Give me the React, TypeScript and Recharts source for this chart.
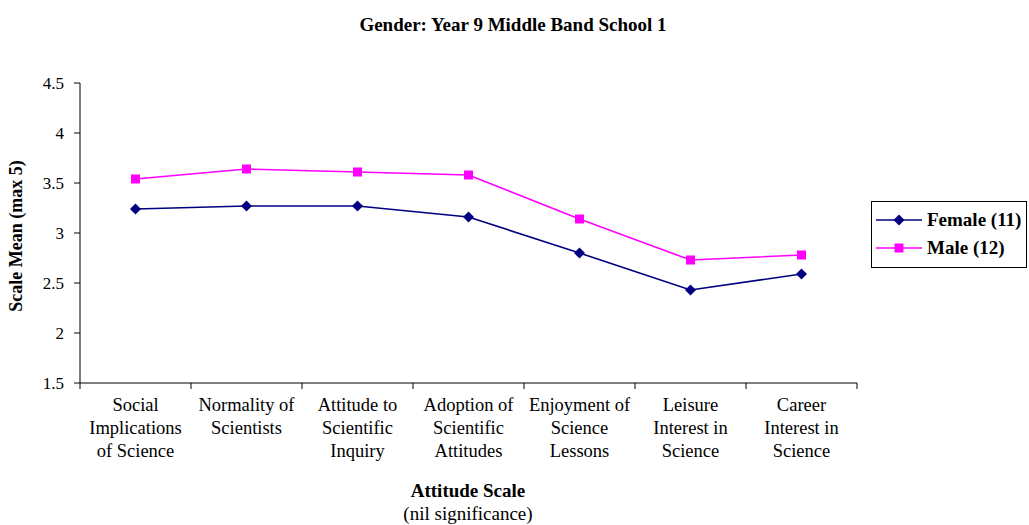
import React from 'react';
import { LineChart, Line, XAxis, YAxis } from 'recharts';

const categories = [
  'Social|Implications|of Science',
  'Normality of|Scientists',
  'Attitude to|Scientific|Inquiry',
  'Adoption of|Scientific|Attitudes',
  'Enjoyment of|Science|Lessons',
  'Leisure|Interest in|Science',
  'Career|Interest in|Science',
];
const female = [3.24, 3.27, 3.27, 3.16, 2.8, 2.43, 2.59];
const male = [3.54, 3.64, 3.61, 3.58, 3.14, 2.73, 2.78];
const yTicks = [1.5, 2, 2.5, 3, 3.5, 4, 4.5];

const data = categories.map((c, i) => ({ name: c, female: female[i], male: male[i] }));

const FONT = '"Liberation Serif", "Times New Roman", serif';
const NAVY = '#000080';
const PINK = '#FF00FF';

const Diamond = (props: any) => {
  const { cx, cy } = props;
  if (cx == null || cy == null) return null;
  const r = 5.5;
  return <path d={`M${cx},${cy - r}L${cx + r},${cy}L${cx},${cy + r}L${cx - r},${cy}Z`} fill={NAVY} />;
};

const Square = (props: any) => {
  const { cx, cy } = props;
  if (cx == null || cy == null) return null;
  return <rect x={cx - 4.5} y={cy - 4.5} width={9} height={9} fill={PINK} />;
};

const BAND = 111;

// ticks sit on the category boundaries, labels in the middle
const CategoryTick = (props: any) => {
  const { x, y, payload, index } = props;
  const lines = String(payload.value).split('|');
  return (
    <g>
      <line x1={x - BAND / 2} y1={y - 8} x2={x - BAND / 2} y2={y - 2} stroke="#000" />
      {index === categories.length - 1 && (
        <line x1={x + BAND / 2} y1={y - 8} x2={x + BAND / 2} y2={y - 2} stroke="#000" />
      )}
      {lines.map((l, i) => (
        <text key={i} x={x} y={y + 20 + i * 23} textAnchor="middle" fontFamily={FONT} fontSize={18.5} fill="#000">
          {l}
        </text>
      ))}
    </g>
  );
};

export default function App() {
  return (
    <div style={{ position: 'absolute', left: 0, top: 0, width: 1029, height: 525, background: '#fff', fontFamily: FONT }}>
      <LineChart width={1029} height={525} data={data} margin={{ top: 83, right: 172, bottom: 132, left: 20 }}>
        <XAxis
          dataKey="name"
          scale="band"
          stroke="#000"
          tickLine={false}
          tick={<CategoryTick />}
          interval={0}
          height={10}
        />
        <YAxis
          domain={[1.5, 4.5]}
          ticks={yTicks}
          stroke="#000"
          width={60}
          tickSize={6}
          tickMargin={10}
          tick={{ fontFamily: FONT, fontSize: 17, fill: '#000' }}
        />
        <Line type="linear" dataKey="female" stroke={NAVY} strokeWidth={1.6} dot={<Diamond />} isAnimationActive={false} />
        <Line type="linear" dataKey="male" stroke={PINK} strokeWidth={1.6} dot={<Square />} isAnimationActive={false} />
        <text x={513} y={31} textAnchor="middle" fontFamily={FONT} fontWeight="bold" fontSize={19}>
          Gender: Year 9 Middle Band School 1
        </text>
        <text
          x={18}
          y={236}
          transform="rotate(-90 18 236)"
          textAnchor="middle"
          dominantBaseline="middle"
          fontFamily={FONT}
          fontWeight="bold"
          fontSize={18}
        >
          Scale Mean (max 5)
        </text>
        <text x={468} y={497} textAnchor="middle" fontFamily={FONT} fontWeight="bold" fontSize={19}>
          Attitude Scale
        </text>
        <text x={468} y={520} textAnchor="middle" fontFamily={FONT} fontSize={19}>
          (nil significance)
        </text>
      </LineChart>
      <div
        style={{
          position: 'absolute',
          left: 871,
          top: 201,
          width: 156,
          height: 67,
          border: '1px solid #000',
          boxSizing: 'border-box',
          fontWeight: 'bold',
          fontSize: 19,
        }}
      >
        {[
          { label: 'Female (11)', color: NAVY, marker: 'diamond' },
          { label: 'Male (12)', color: PINK, marker: 'square' },
        ].map((s, i) => (
          <div key={i} style={{ position: 'absolute', left: 4, top: 6 + i * 28, height: 24, display: 'flex', alignItems: 'center', whiteSpace: 'nowrap' }}>
            <svg width={48} height={14}>
              <line x1={0} y1={7} x2={46} y2={7} stroke={s.color} strokeWidth={1.6} />
              {s.marker === 'diamond' ? (
                <path d="M23,1.5L28.5,7L23,12.5L17.5,7Z" fill={s.color} />
              ) : (
                <rect x={18.5} y={2.5} width={9} height={9} fill={s.color} />
              )}
            </svg>
            <span style={{ marginLeft: 3 }}>{s.label}</span>
          </div>
        ))}
      </div>
    </div>
  );
}
